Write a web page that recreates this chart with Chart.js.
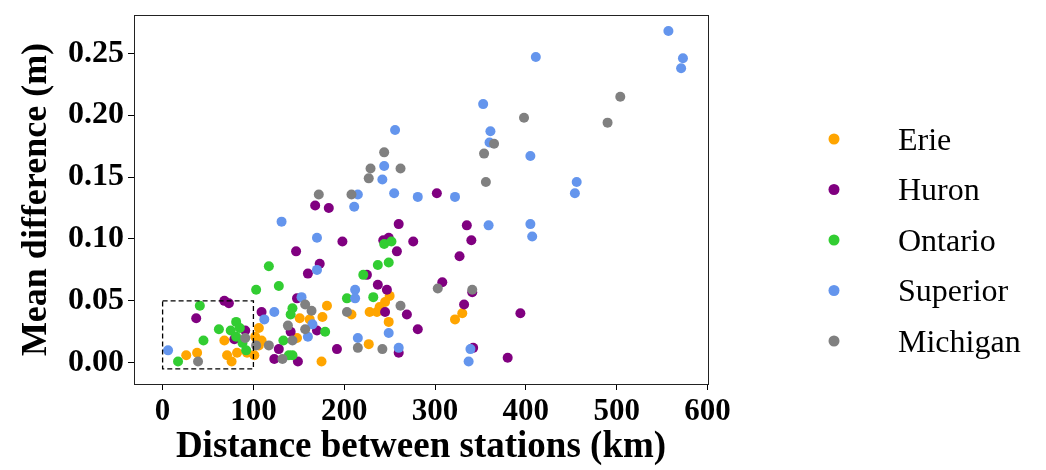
<!DOCTYPE html>
<html>
<head>
<meta charset="utf-8">
<script src="https://cdn.jsdelivr.net/npm/chart.js@4.4.1/dist/chart.umd.min.js"></script>
<style>
  body { margin: 0; background: #fff; }
  #chart { display: block; }
</style>
</head>
<body>
<canvas id="chart" width="1046" height="470"></canvas>
<script>
const lakes = ["Erie", "Huron", "Ontario", "Superior", "Michigan"];
const lakeColors = ["#ffa500", "#800080", "#32cd32", "#6495ed", "#808080"];

const erieKm = [330, 322, 250, 245, 239, 236, 181, 176, 208, 228, 249, 151, 162, 148, 227, 175, 106, 106, 101, 68, 71, 82, 76, 93, 26, 38, 102, 109];
const erieDiff = [0.040, 0.035, 0.054, 0.049, 0.045, 0.041, 0.046, 0.037, 0.039, 0.041, 0.033, 0.036, 0.035, 0.020, 0.015, 0.001, 0.028, 0.014, 0.006, 0.018, 0.006, 0.008, 0.001, 0.008, 0.006, 0.008, 0.021, 0.018];

const huronKm = [302, 168, 183, 260, 198, 243, 249, 276, 147, 258, 173, 335, 340, 327, 308, 341, 332, 394, 342, 380, 160, 225, 237, 247, 148, 245, 269, 281, 170, 192, 260, 149, 68, 73, 37, 109, 91, 79, 128, 123, 141];
const huronDiff = [0.137, 0.127, 0.125, 0.112, 0.098, 0.099, 0.101, 0.098, 0.090, 0.090, 0.080, 0.111, 0.099, 0.086, 0.065, 0.057, 0.047, 0.040, 0.012, 0.004, 0.072, 0.071, 0.063, 0.059, 0.052, 0.041, 0.039, 0.027, 0.026, 0.011, 0.008, 0.001, 0.050, 0.048, 0.036, 0.041, 0.026, 0.019, 0.011, 0.003, 0.025];

const ontarioKm = [244, 252, 237, 249, 221, 203, 232, 143, 179, 143, 117, 128, 103, 41, 62, 81, 75, 81, 45, 88, 92, 17, 139, 133, 141, 85];
const ontarioDiff = [0.096, 0.098, 0.079, 0.081, 0.071, 0.052, 0.053, 0.044, 0.025, 0.006, 0.078, 0.062, 0.059, 0.046, 0.027, 0.033, 0.026, 0.021, 0.018, 0.016, 0.010, 0.001, 0.006, 0.018, 0.039, 0.028];

const superiorKm = [557, 573, 571, 411, 353, 361, 360, 405, 256, 244, 242, 215, 211, 255, 281, 456, 454, 322, 359, 405, 407, 170, 131, 339, 337, 170, 212, 212, 153, 165, 160, 215, 249, 260, 123, 112, 6];
const superiorDiff = [0.268, 0.246, 0.238, 0.247, 0.209, 0.187, 0.178, 0.167, 0.188, 0.159, 0.148, 0.136, 0.126, 0.137, 0.134, 0.146, 0.137, 0.134, 0.111, 0.112, 0.102, 0.101, 0.114, 0.011, 0.001, 0.075, 0.059, 0.052, 0.053, 0.031, 0.021, 0.020, 0.024, 0.012, 0.041, 0.035, 0.010];

const michiganKm = [504, 490, 398, 244, 365, 354, 229, 227, 262, 172, 208, 356, 341, 303, 157, 164, 203, 262, 157, 143, 215, 242, 91, 103, 117, 39, 132, 138];
const michiganDiff = [0.215, 0.194, 0.198, 0.170, 0.177, 0.169, 0.157, 0.149, 0.157, 0.136, 0.136, 0.146, 0.059, 0.060, 0.047, 0.042, 0.041, 0.046, 0.027, 0.018, 0.012, 0.011, 0.020, 0.014, 0.014, 0.001, 0.003, 0.030];

const xTicks = [0, 100, 200, 300, 400, 500, 600];
const yTicks = [0.00, 0.05, 0.10, 0.15, 0.20, 0.25];
// dashed box: km from, km to, diff from, diff to
const zoomBox = [0, 100, -0.005, 0.05];

const kmLists = [erieKm, huronKm, ontarioKm, superiorKm, michiganKm];
const diffLists = [erieDiff, huronDiff, ontarioDiff, superiorDiff, michiganDiff];

function toPoints(km, diff) {
    return km.map((k, i) => ({ x: k, y: diff[i] }));
}

const datasets = lakes.map((name, i) => ({
    label: name,
    data: toPoints(kmLists[i], diffLists[i]),
    backgroundColor: lakeColors[i],
    borderWidth: 0,
    pointRadius: 5,
    order: lakes.length - i
}));

const serif = "'Liberation Serif', 'Times New Roman', serif";

// frame, dashed box and legend
const extras = {
    id: "extras",
    afterDatasetsDraw(chart) {
        const { ctx, chartArea: a, scales } = chart;
        ctx.save();
        ctx.strokeStyle = "#000";
        ctx.lineWidth = 1.3;
        ctx.setLineDash([5, 3]);
        const x0 = scales.x.getPixelForValue(zoomBox[0]);
        const x1 = scales.x.getPixelForValue(zoomBox[1]);
        const y0 = scales.y.getPixelForValue(zoomBox[2]);
        const y1 = scales.y.getPixelForValue(zoomBox[3]);
        ctx.strokeRect(x0, y1, x1 - x0, y0 - y1);
        ctx.setLineDash([]);
        ctx.strokeStyle = "#222";
        ctx.lineWidth = 1;
        ctx.strokeRect(a.left + 0.5, a.top + 0.5, a.right - a.left, a.bottom - a.top);
        ctx.restore();
    },
    afterDraw(chart) {
        const ctx = chart.ctx;
        ctx.save();
        ctx.font = "32px " + serif;
        ctx.textBaseline = "alphabetic";
        chart.data.datasets.forEach((ds, i) => {
            const y = 139 + i * 50.5;
            ctx.beginPath();
            ctx.arc(834, y, 5.5, 0, Math.PI * 2);
            ctx.fillStyle = ds.backgroundColor;
            ctx.fill();
            ctx.fillStyle = "#000";
            ctx.fillText(ds.label, 898, y + 10.5);
        });
        ctx.restore();
    }
};

new Chart(document.getElementById("chart"), {
    type: "scatter",
    data: { datasets },
    options: {
        responsive: false,
        animation: false,
        devicePixelRatio: 1,
        layout: { padding: { left: 0, top: 15, right: 338, bottom: 0 } },
        plugins: { legend: { display: false }, tooltip: { enabled: false } },
        scales: {
            x: {
                type: "linear",
                min: -31.5,
                max: 600.6,
                afterBuildTicks: s => { s.ticks = xTicks.map(v => ({ value: v })); },
                afterFit: s => { s.height = 86; s.paddingLeft = 0; s.paddingRight = 0; },
                grid: { drawOnChartArea: false, tickLength: 6, color: "#000" },
                border: { color: "#222", width: 1 },
                ticks: {
                    color: "#000",
                    padding: 3,
                    maxRotation: 0,
                    font: { family: serif, size: 31, weight: "bold" },
                    callback: v => String(v)
                },
                title: {
                    display: true,
                    text: "Distance between stations (km)",
                    color: "#000",
                    font: { family: serif, size: 37, weight: "bold" },
                    padding: { top: 0, bottom: 0 }
                }
            },
            y: {
                type: "linear",
                min: -0.0172,
                max: 0.281,
                afterBuildTicks: s => { s.ticks = yTicks.map(v => ({ value: v })); },
                afterFit: s => { s.width = 134; s.paddingTop = 0; s.paddingBottom = 0; },
                grid: { drawOnChartArea: false, tickLength: 6, color: "#000" },
                border: { color: "#222", width: 1 },
                ticks: {
                    color: "#000",
                    padding: 4,
                    font: { family: serif, size: 32, weight: "bold" },
                    callback: v => v.toFixed(2)
                },
                title: {
                    display: true,
                    text: "Mean difference (m)",
                    color: "#000",
                    font: { family: serif, size: 36, weight: "bold" },
                    padding: { top: 15, bottom: 0 }
                }
            }
        }
    },
    plugins: [extras]
});
</script>
</body>
</html>
